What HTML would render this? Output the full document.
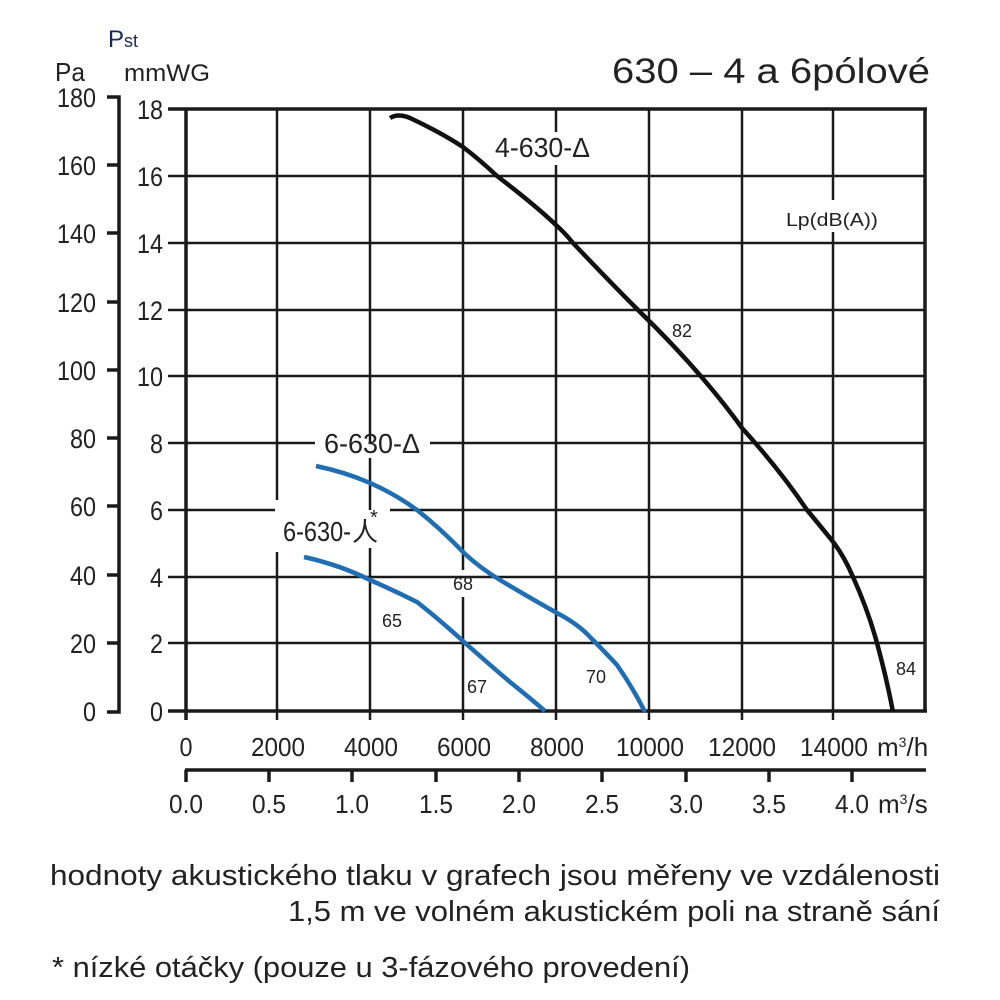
<!DOCTYPE html>
<html><head><meta charset="utf-8"><style>
html,body{margin:0;padding:0;background:#fff;}
svg{display:block;}
text{font-family:"Liberation Sans",Arial,sans-serif;fill:#222;}
</style></head><body>
<svg width="1000" height="1000" viewBox="0 0 1000 1000" xmlns="http://www.w3.org/2000/svg">
<rect width="1000" height="1000" fill="#fff"/>
<g stroke="#1a1a1a" stroke-width="2.5">
<line x1="277" y1="109" x2="277" y2="500"/><line x1="277" y1="552" x2="277" y2="720"/>
<line x1="370" y1="109" x2="370" y2="443"/><line x1="370" y1="458" x2="370" y2="510"/><line x1="370" y1="548" x2="370" y2="720"/>
<line x1="463" y1="109" x2="463" y2="570"/><line x1="463" y1="597" x2="463" y2="720"/>
<line x1="556" y1="109" x2="556" y2="132"/><line x1="556" y1="165" x2="556" y2="720"/>
<line x1="649" y1="109" x2="649" y2="720"/>
<line x1="742" y1="109" x2="742" y2="720"/>
<line x1="833" y1="109" x2="833" y2="200"/><line x1="833" y1="232" x2="833" y2="720"/>
</g>
<g stroke="#1a1a1a" stroke-width="2.5">
<line x1="168" y1="176" x2="926" y2="176"/>
<line x1="168" y1="243" x2="926" y2="243"/>
<line x1="168" y1="310" x2="926" y2="310"/>
<line x1="168" y1="376" x2="926" y2="376"/>
<line x1="168" y1="443" x2="315" y2="443"/><line x1="430" y1="443" x2="926" y2="443"/>
<line x1="168" y1="510" x2="275" y2="510"/><line x1="390" y1="510" x2="926" y2="510"/>
<line x1="168" y1="577" x2="926" y2="577"/>
<line x1="168" y1="643" x2="926" y2="643"/>
</g>
<g stroke="#1a1a1a" stroke-width="3.5" fill="none">
<line x1="168" y1="109" x2="927" y2="109"/>
<line x1="168" y1="711" x2="927" y2="711"/>
<line x1="186" y1="109" x2="186" y2="720"/>
<line x1="925" y1="109" x2="925" y2="711"/>
<polyline points="107,97 119,97 119,712 107,712"/>
<line x1="185" y1="770" x2="926" y2="770"/>
</g>
<g stroke="#1a1a1a" stroke-width="3.5">
<line x1="107" y1="165" x2="119" y2="165"/><line x1="107" y1="233" x2="119" y2="233"/>
<line x1="107" y1="302" x2="119" y2="302"/><line x1="107" y1="370" x2="119" y2="370"/>
<line x1="107" y1="438" x2="119" y2="438"/><line x1="107" y1="506" x2="119" y2="506"/>
<line x1="107" y1="575" x2="119" y2="575"/><line x1="107" y1="643" x2="119" y2="643"/>
<line x1="186" y1="770" x2="186" y2="782"/><line x1="269" y1="770" x2="269" y2="782"/>
<line x1="352" y1="770" x2="352" y2="782"/><line x1="436" y1="770" x2="436" y2="782"/>
<line x1="519" y1="770" x2="519" y2="782"/><line x1="602" y1="770" x2="602" y2="782"/>
<line x1="686" y1="770" x2="686" y2="782"/><line x1="769" y1="770" x2="769" y2="782"/>
<line x1="852" y1="770" x2="852" y2="782"/>
</g>
<path d="M390,118 Q398,113 410,118 Q440,132 463,147 Q480,160 497,176 Q535,205 556,225 Q565,233 573,243 Q610,282 638,310 Q700,370 742,428 Q780,470 807,510 Q822,528 834,543 Q845,558 853,577 Q868,610 877,643 Q887,680 893,712" fill="none" stroke="#111" stroke-width="4.5"/>
<path d="M316,466 Q345,472 370,483 Q395,494 417,510 Q440,528 464,553 Q480,568 500,580 Q530,598 557,613 Q578,624 590,637 Q605,652 617,665 Q633,688 645,712" fill="none" stroke="#1f6db3" stroke-width="4.5"/>
<path d="M304,557 Q340,565 370,580 Q393,590 417,602 Q440,620 464,642 Q490,665 510,682 Q530,698 545,711" fill="none" stroke="#1f6db3" stroke-width="4.5"/>
<g font-size="27" text-anchor="end" lengthAdjust="spacingAndGlyphs">
<text x="96" y="107" textLength="39" lengthAdjust="spacingAndGlyphs">180</text><text x="96" y="175" textLength="39" lengthAdjust="spacingAndGlyphs">160</text><text x="96" y="243" textLength="39" lengthAdjust="spacingAndGlyphs">140</text>
<text x="96" y="312" textLength="39" lengthAdjust="spacingAndGlyphs">120</text><text x="96" y="380" textLength="39" lengthAdjust="spacingAndGlyphs">100</text><text x="96" y="448" textLength="26" lengthAdjust="spacingAndGlyphs">80</text>
<text x="96" y="516" textLength="26" lengthAdjust="spacingAndGlyphs">60</text><text x="96" y="585" textLength="26" lengthAdjust="spacingAndGlyphs">40</text><text x="96" y="653" textLength="26" lengthAdjust="spacingAndGlyphs">20</text>
<text x="96" y="721" textLength="13" lengthAdjust="spacingAndGlyphs">0</text>
<text x="163" y="119" textLength="26" lengthAdjust="spacingAndGlyphs">18</text><text x="163" y="186" textLength="26" lengthAdjust="spacingAndGlyphs">16</text><text x="163" y="253" textLength="26" lengthAdjust="spacingAndGlyphs">14</text>
<text x="163" y="320" textLength="26" lengthAdjust="spacingAndGlyphs">12</text><text x="163" y="386" textLength="26" lengthAdjust="spacingAndGlyphs">10</text><text x="163" y="453" textLength="13" lengthAdjust="spacingAndGlyphs">8</text>
<text x="163" y="520" textLength="13" lengthAdjust="spacingAndGlyphs">6</text><text x="163" y="587" textLength="13" lengthAdjust="spacingAndGlyphs">4</text><text x="163" y="653" textLength="13" lengthAdjust="spacingAndGlyphs">2</text>
<text x="163" y="721" textLength="13" lengthAdjust="spacingAndGlyphs">0</text>
</g>
<text x="55" y="81" font-size="26" textLength="30" lengthAdjust="spacingAndGlyphs">Pa</text>
<text x="108" y="47" font-size="24" style="fill:#1a2a55">P<tspan font-size="18">st</tspan></text>
<text x="124" y="81" font-size="24" textLength="86" lengthAdjust="spacingAndGlyphs">mmWG</text>
<text x="930" y="83" font-size="35" text-anchor="end" textLength="318" lengthAdjust="spacingAndGlyphs">630 – 4 a 6pólové</text>
<g font-size="26" text-anchor="middle">
<text x="186" y="756" textLength="13" lengthAdjust="spacingAndGlyphs">0</text><text x="278" y="756" textLength="54" lengthAdjust="spacingAndGlyphs">2000</text><text x="371" y="756" textLength="54" lengthAdjust="spacingAndGlyphs">4000</text>
<text x="464" y="756" textLength="54" lengthAdjust="spacingAndGlyphs">6000</text><text x="557" y="756" textLength="54" lengthAdjust="spacingAndGlyphs">8000</text><text x="650" y="756" textLength="68" lengthAdjust="spacingAndGlyphs">10000</text>
<text x="742" y="756" textLength="68" lengthAdjust="spacingAndGlyphs">12000</text><text x="834" y="756" textLength="68" lengthAdjust="spacingAndGlyphs">14000</text>
<text x="186" y="813" textLength="34" lengthAdjust="spacingAndGlyphs">0.0</text><text x="269" y="813" textLength="34" lengthAdjust="spacingAndGlyphs">0.5</text><text x="352" y="813" textLength="34" lengthAdjust="spacingAndGlyphs">1.0</text>
<text x="436" y="813" textLength="34" lengthAdjust="spacingAndGlyphs">1.5</text><text x="519" y="813" textLength="34" lengthAdjust="spacingAndGlyphs">2.0</text><text x="602" y="813" textLength="34" lengthAdjust="spacingAndGlyphs">2.5</text>
<text x="686" y="813" textLength="34" lengthAdjust="spacingAndGlyphs">3.0</text><text x="769" y="813" textLength="34" lengthAdjust="spacingAndGlyphs">3.5</text><text x="852" y="813" textLength="34" lengthAdjust="spacingAndGlyphs">4.0</text>
</g>
<text x="877" y="756" font-size="26">m<tspan font-size="14" dy="-9">3</tspan><tspan dy="9">/h</tspan></text>
<text x="878" y="813" font-size="26">m<tspan font-size="14" dy="-9">3</tspan><tspan dy="9">/s</tspan></text>
<text x="495" y="157" font-size="28" textLength="95" lengthAdjust="spacingAndGlyphs">4-630-Δ</text>
<text x="324" y="453" font-size="28" textLength="96" lengthAdjust="spacingAndGlyphs">6-630-Δ</text>
<text x="283" y="541" font-size="28" textLength="68" lengthAdjust="spacingAndGlyphs">6-630-</text>
<text x="352" y="541" font-size="26">人</text>
<text x="370" y="524" font-size="20">*</text>
<text x="786" y="226" font-size="18" textLength="92" lengthAdjust="spacingAndGlyphs">Lp(dB(A))</text>
<g font-size="18">
<text x="672" y="337" textLength="20" lengthAdjust="spacingAndGlyphs">82</text><text x="453" y="590" textLength="20" lengthAdjust="spacingAndGlyphs">68</text><text x="382" y="627" textLength="20" lengthAdjust="spacingAndGlyphs">65</text>
<text x="467" y="693" textLength="20" lengthAdjust="spacingAndGlyphs">67</text><text x="586" y="683" textLength="20" lengthAdjust="spacingAndGlyphs">70</text><text x="896" y="675" textLength="20" lengthAdjust="spacingAndGlyphs">84</text>
</g>
<g font-size="29">
<text x="940" y="885" text-anchor="end" textLength="890" lengthAdjust="spacingAndGlyphs">hodnoty akustického tlaku v grafech jsou měřeny ve vzdálenosti</text>
<text x="940" y="921" text-anchor="end" textLength="652" lengthAdjust="spacingAndGlyphs">1,5 m ve volném akustickém poli na straně sání</text>
<text x="52" y="977" textLength="638" lengthAdjust="spacingAndGlyphs">* nízké otáčky (pouze u 3-fázového provedení)</text>
</g>
</svg>
</body></html>
